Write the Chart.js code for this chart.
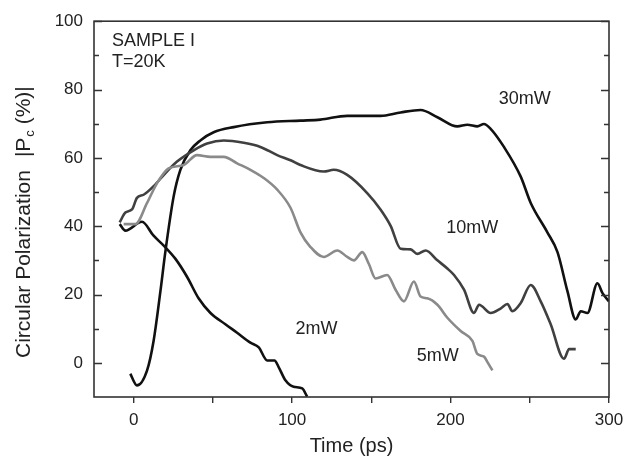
<!DOCTYPE html>
<html>
<head>
<meta charset="utf-8">
<script src="https://cdn.jsdelivr.net/npm/chart.js@4/dist/chart.umd.min.js"></script>
<style>
html,body{margin:0;padding:0;background:#fff;}
#c{display:block;}
</style>
</head>
<body>
<canvas id="c" width="639" height="461"></canvas>
<script>
// ---- data ----
const t30 = [-2.1, 2.1, 8.5, 12.6, 16.9, 20, 25.3, 29.5, 35.8, 42.1, 50.5, 63.2, 84.3, 105.3, 117.9, 134.8, 155.8, 168.5, 181.1, 191.7, 204.3, 210.6, 216.9, 221.1, 225.3, 233.7, 244.3, 250.6, 261.1, 267.5, 273.8, 279, 282.2, 286.4, 292.7, 295.9, 300];
const pc30 = [-3.2, -6.6, -2.2, 6.4, 20.9, 32.4, 48.8, 56.5, 62.2, 65.1, 67.5, 69, 70.4, 70.9, 71.2, 72.3, 72.3, 73.3, 74, 71.9, 69.2, 69.7, 69.2, 69.9, 68.5, 63.2, 54.5, 46.8, 38.2, 32.4, 20.9, 12.7, 15.1, 14.6, 23.3, 20.4, 18];

const t10 = [-8.8, -5.2, -1, 2.1, 6.3, 12.6, 20, 27.4, 37.9, 46.4, 56.9, 69.5, 80, 90.6, 99, 105.3, 120, 126.3, 134.8, 147.4, 155.8, 162.2, 168.5, 174.8, 179, 184.3, 191.7, 198, 202.2, 208.5, 214.8, 218, 225.3, 231.6, 235.9, 239, 244.3, 250.6, 256.9, 263.2, 271.6, 274.8, 279];
const pc10 = [41.1, 44, 44.9, 48.3, 49.2, 51.7, 55.5, 58.9, 62.2, 64.2, 65.1, 64.4, 63.2, 60.8, 59.3, 57.9, 56, 56.5, 55, 49.7, 44.9, 40.1, 33.4, 33.2, 31.9, 32.9, 30, 27.6, 25.7, 21.4, 14.6, 17, 14.6, 15.9, 17.2, 15.1, 17.5, 22.8, 18, 11.3, 1.2, 4, 4];

const t5 = [-6.3, 1.1, 8.5, 14.8, 22.1, 31.6, 40, 48.5, 56.9, 65.3, 73.7, 82.1, 90.6, 99, 105.3, 111.6, 120, 128.5, 134.8, 139, 144.3, 148.4, 152.7, 160, 165.3, 170.6, 176.9, 181.1, 185.3, 191.7, 198, 206.4, 213.8, 216.9, 221.1, 223.3, 226.4];
const pc5 = [40.6, 40.6, 46.8, 52.6, 56.9, 57.9, 60.8, 60.3, 60.3, 58.4, 56.5, 54.1, 50.7, 45.4, 38.2, 33.9, 31, 32.9, 31, 30, 32.4, 29, 24.7, 25.7, 21.4, 18, 23.8, 19.4, 18.9, 17, 13.2, 9.3, 6.4, 2.6, 1.8, 0.2, -2.2];

const t2 = [-8.8, -5.2, 5.3, 12.6, 19, 26.3, 33.7, 41, 48.5, 57.9, 65.3, 73.7, 79, 84.3, 88.9, 91.6, 95.8, 101, 106.4, 109.5];
const pc2 = [40.6, 38.7, 41.3, 37.2, 34.3, 30.5, 25.2, 18.9, 14.6, 11.3, 8.8, 5.9, 4.5, 0.7, 0.7, -1.3, -5.1, -7, -7.5, -9.9];

const xTickValues = [0, 50, 100, 150, 200, 250, 300];
const xLabelValues = [0, 100, 200, 300];
const yMajorTicks = [0, 20, 40, 60, 80, 100];
const yMinorTicks = [10, 30, 50, 70, 90];

const noteTexts = ["SAMPLE I", "T=20K", "30mW", "10mW", "2mW", "5mW"];
const noteX = [-13.6, -13.6, 230.4, 197.3, 102.1, 178.6];
const noteY = [94.2, 88, 77.1, 39.6, 10, 2.1];

const yTitleMain = "Circular Polarization";
const yTitleP = "|P";
const yTitleSub = "c";
const yTitleEnd = " (%)|";
const xTitle = "Time (ps)";

// ---- chart ----
const pts = (xs, ys) => xs.map((x, i) => ({x: x, y: ys[i]}));
const FONT = "'Liberation Sans', Arial, sans-serif";
const TXT = '#222';

const decor = {
  id: 'decor',
  afterDatasetsDraw(chart) {
    const {ctx, chartArea: a, scales: {x, y}} = chart;
    ctx.save();
    // frame
    ctx.strokeStyle = '#333';
    ctx.lineWidth = 1.6;
    ctx.strokeRect(a.left, a.top, a.right - a.left, a.bottom - a.top);
    // inward y ticks, both sides
    ctx.lineWidth = 1.4;
    const drawT = (v, len) => {
      const py = Math.round(y.getPixelForValue(v)) + 0.5;
      ctx.beginPath();
      ctx.moveTo(a.left, py); ctx.lineTo(a.left + len, py);
      ctx.moveTo(a.right, py); ctx.lineTo(a.right - len, py);
      ctx.stroke();
    };
    yMajorTicks.forEach(v => drawT(v, 8));
    yMinorTicks.forEach(v => drawT(v, 5));
    // annotations
    ctx.fillStyle = TXT;
    ctx.font = '18px ' + FONT;
    ctx.textAlign = 'left';
    ctx.textBaseline = 'middle';
    noteTexts.forEach((s, i) => {
      ctx.fillText(s, x.getPixelForValue(noteX[i]), y.getPixelForValue(noteY[i]));
    });
    ctx.restore();
  },
  afterDraw(chart) {
    const {ctx} = chart;
    ctx.save();
    ctx.fillStyle = TXT;
    ctx.translate(24, 358);
    ctx.rotate(-Math.PI / 2);
    ctx.textBaseline = 'middle';
    ctx.textAlign = 'left';
    const big = '21px ' + FONT, small = '13px ' + FONT;
    ctx.font = big;
    let cx = 0;
    ctx.fillText(yTitleMain, cx, 0);
    cx += ctx.measureText(yTitleMain).width + 13;
    ctx.fillText(yTitleP, cx, 0);
    cx += ctx.measureText(yTitleP).width + 1;
    ctx.font = small;
    ctx.fillText(yTitleSub, cx, 6);
    cx += ctx.measureText(yTitleSub).width;
    ctx.font = big;
    ctx.fillText(yTitleEnd, cx, 0);
    ctx.restore();
  }
};

const ds = (label, xs, ys, color) => ({
  label: label,
  data: pts(xs, ys),
  borderColor: color,
  borderWidth: 2.6,
  pointRadius: 0,
  fill: false,
  cubicInterpolationMode: 'monotone'
});

new Chart(document.getElementById('c'), {
  type: 'line',
  data: {
    datasets: [
      ds('5mW', t5, pc5, '#8a8a8a'),
      ds('10mW', t10, pc10, '#404040'),
      ds('2mW', t2, pc2, '#111'),
      ds('30mW', t30, pc30, '#111')
    ]
  },
  options: {
    responsive: false,
    animation: false,
    devicePixelRatio: 1,
    layout: {padding: {top: 16, right: 30, left: 0, bottom: 0}},
    plugins: {legend: {display: false}, tooltip: {enabled: false}},
    scales: {
      x: {
        type: 'linear',
        min: -25, max: 300,
        afterFit(s) { s.height = 64; },
        afterBuildTicks(s) { s.ticks = xTickValues.map(v => ({value: v})); },
        border: {display: false},
        grid: {drawOnChartArea: false, drawTicks: true, tickLength: 6, color: '#333', lineWidth: 1.4},
        ticks: {
          autoSkip: false, maxRotation: 0, padding: 7,
          color: TXT, font: {family: FONT, size: 17},
          callback: v => xLabelValues.includes(v) ? String(v) : ''
        },
        title: {display: true, text: xTitle, color: TXT, font: {family: FONT, size: 20}, padding: {top: 0, bottom: 3}}
      },
      y: {
        type: 'linear',
        min: -10, max: 100,
        afterFit(s) { s.width = 94; },
        afterBuildTicks(s) { s.ticks = yMajorTicks.map(v => ({value: v})); },
        border: {display: false},
        grid: {drawOnChartArea: false, drawTicks: false},
        ticks: {padding: 11, color: TXT, font: {family: FONT, size: 17}},
        title: {display: false}
      }
    }
  },
  plugins: [decor]
});
</script>
</body>
</html>
